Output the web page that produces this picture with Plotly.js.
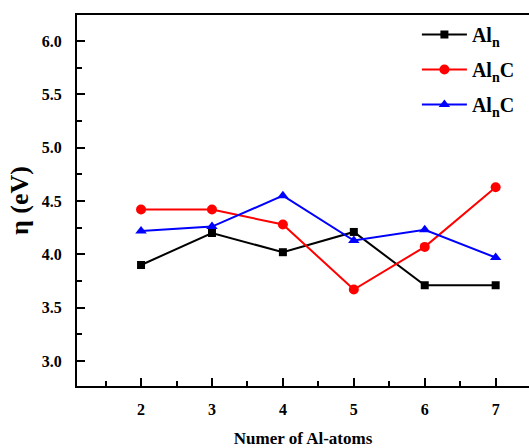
<!DOCTYPE html>
<html>
<head>
<meta charset="utf-8">
<script src="https://cdn.plot.ly/plotly-3.0.1.min.js"></script>
<style>html,body{margin:0;padding:0;background:#fff;}#chart{width:529px;height:448px;}</style>
</head>
<body>
<div id="chart"></div>
<script>
const atoms = [2, 3, 4, 5, 6, 7];
const alN = [3.90, 4.20, 4.02, 4.21, 3.71, 3.71];
const alNC_red = [4.42, 4.42, 4.28, 3.67, 4.07, 4.63];
const alNC_blue = [4.22, 4.26, 4.55, 4.13, 4.23, 3.97];
const seriesNames = ['Al<sub>n</sub>', 'Al<sub>n</sub>C', 'Al<sub>n</sub>C'];

const font = {family: 'Liberation Serif, Times New Roman, serif', color: '#000'};

const traces = [
  {x: atoms, y: alN, name: seriesNames[0], legendgroup: 'a', mode: 'lines+markers',
   line: {color: '#000000', width: 2}, marker: {symbol: 'square', size: 8, color: '#000000'}},
  {x: atoms, y: alNC_red, name: seriesNames[1], legendgroup: 'b', mode: 'lines+markers',
   line: {color: '#ff0000', width: 2}, marker: {symbol: 'circle', size: 10, color: '#ff0000'}},
  {x: atoms, y: alNC_blue, name: seriesNames[2], legendgroup: 'c', mode: 'lines+markers',
   line: {color: '#0000ff', width: 2}, marker: {symbol: 'triangle-up', size: 10, color: '#0000ff'}}
];

const layout = {
  width: 529, height: 448,
  margin: {l: 77, r: 0, t: 15, b: 62},
  paper_bgcolor: '#fff', plot_bgcolor: '#fff',
  showlegend: true,
  legend: {x: 0.752, y: 1.0, xanchor: 'left', yanchor: 'top', bgcolor: 'rgba(0,0,0,0)',
           itemwidth: 45,
           font: {family: font.family, size: 20, color: '#000', weight: 'bold'}, tracegroupgap: 6},
  xaxis: {
    range: [1.097, 7.47], showgrid: false, zeroline: false,
    showline: true, linecolor: '#000', linewidth: 2, mirror: true,
    ticks: 'inside', ticklen: 8, tickwidth: 2, tickcolor: '#000',
    tickmode: 'array', tickvals: atoms, ticktext: atoms.map(String),
    minor: {tickmode: 'array', tickvals: [1.5, 2.5, 3.5, 4.5, 5.5, 6.5], ticks: 'inside', ticklen: 5, tickwidth: 2, tickcolor: '#000', showgrid: false},
    tickfont: {family: font.family, size: 16, color: '#000', weight: 'bold'},
    ticklabelstandoff: 8,
    title: {text: 'Numer of Al-atoms', font: {family: font.family, size: 17, color: '#000', weight: 'bold'}, standoff: 16}
  },
  yaxis: {
    range: [2.765, 6.245], showgrid: false, zeroline: false,
    showline: true, linecolor: '#000', linewidth: 2, mirror: false,
    ticks: 'inside', ticklen: 8, tickwidth: 2, tickcolor: '#000',
    tickmode: 'array', tickvals: [3, 3.5, 4, 4.5, 5, 5.5, 6], ticktext: ['3.0','3.5','4.0','4.5','5.0','5.5','6.0'],
    minor: {tickmode: 'array', tickvals: [3.25, 3.75, 4.25, 4.75, 5.25, 5.75], ticks: 'inside', ticklen: 5, tickwidth: 2, tickcolor: '#000', showgrid: false},
    tickfont: {family: font.family, size: 16, color: '#000', weight: 'bold'},
    ticklabelstandoff: 10,
    title: {text: 'η (eV)', font: {family: font.family, size: 26, color: '#000', weight: 'bold'}, standoff: 6}
  }
};

Plotly.newPlot('chart', traces, layout, {displayModeBar: false, staticPlot: true});
</script>
</body>
</html>
